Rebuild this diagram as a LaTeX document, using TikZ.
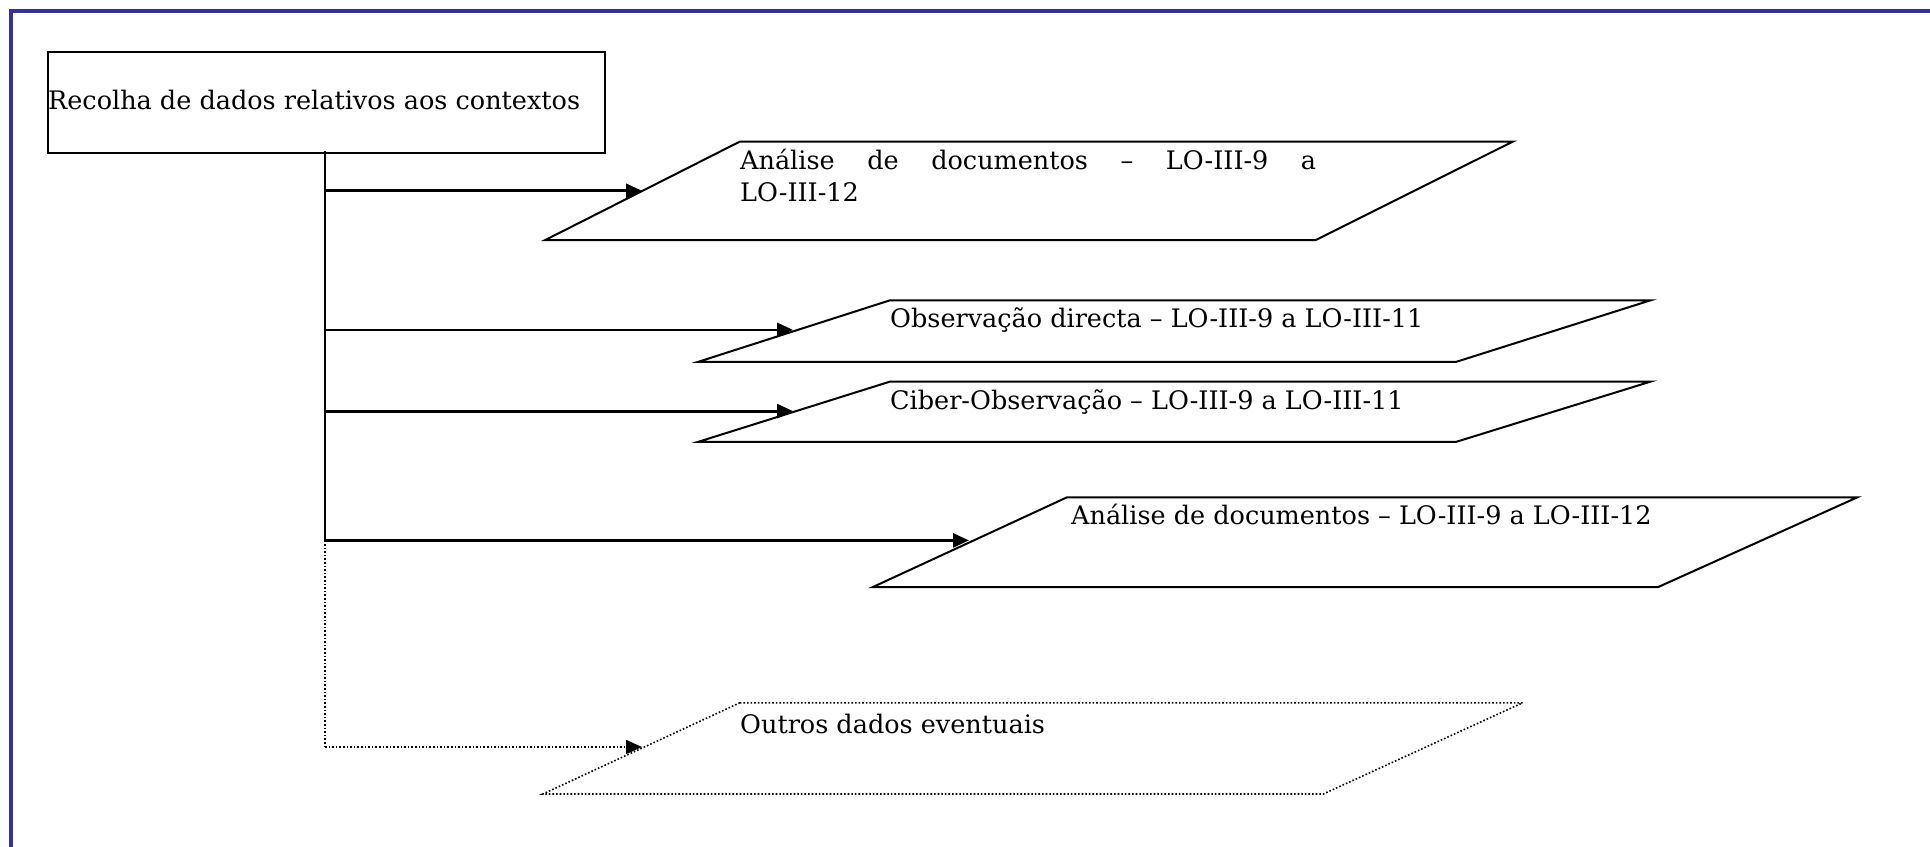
\documentclass[tikz,border=0pt]{standalone}
\usepackage{fontspec}
\setmainfont{DejaVu Serif}
\usetikzlibrary{arrows.meta}
\definecolor{frameblue}{RGB}{51,51,153}
\tikzset{
  conn/.style={line width=2.8pt,-{Triangle[length=16pt,width=14pt]}},
  trunk/.style={line width=2.8pt},
  para/.style={line width=2pt,line join=miter},
  dotpara/.style={line width=1.6pt,dotted},
  dotconn/.style={line width=1.6pt,dotted,-{Triangle[length=16pt,width=14pt]}},
  txt/.style={inner sep=0pt,anchor=base west,font=\fontsize{25.5pt}{30pt}\selectfont},
}
\begin{document}
\begin{tikzpicture}[x=1pt,y=-1pt]
\useasboundingbox (0,0) rectangle (1930,846);
\clip (0,0) rectangle (1930,846);
\draw[frameblue,line width=4pt] (10.5,11) rectangle (1960,880);

% source box
\node[draw,line width=2pt,minimum width=557pt,minimum height=101pt,anchor=north west,inner sep=0pt] (src) at (46.5,50.5) {};
\node[txt] (srct) at (48,109) {Recolha de dados relativos aos contextos};

% parallelograms
\draw[para] (739.8,141.6) coordinate (p1a) -- (1512.8,141.6) -- (1315.8,240) -- (545.3,240) -- cycle;
\node[txt] (t1a) at (740,169) {\makebox[576pt][s]{Análise\hfill de\hfill documentos\hfill –\hfill LO-III-9\hfill a}};
\node[txt] (t1b) at (740,201) {LO-III-12};

\draw[para] (890,300.3) -- (1650.6,300.3) -- (1456,361.9) -- (698,361.9) -- cycle;
\node[txt] (t2) at (890,327) {Observação directa – LO-III-9 a LO-III-11};

\draw[para] (890,381.6) -- (1650.6,381.6) -- (1456,441.9) -- (698,441.9) -- cycle;
\node[txt] (t3) at (890,409) {Ciber-Observação – LO-III-9 a LO-III-11};

\draw[para] (1067,497.3) -- (1857.4,497.3) -- (1658,587.1) -- (872.7,587.1) -- cycle;
\node[txt] (t4) at (1071,524) {Análise de documentos – LO-III-9 a LO-III-12};

\draw[dotpara] (739.8,702.8) -- (1522.6,702.8) -- (1323.2,794) -- (542.8,794) -- cycle;
\node[txt] (t5) at (740,733) {Outros dados eventuais};

% connectors
\coordinate (j0) at (325,151.4);
\coordinate (j1) at (325,190.8);
\coordinate (j2) at (325,329.9);
\coordinate (j3) at (325,411.1);
\coordinate (j4) at (325,540.4);
\coordinate (j5) at (325,747);
\coordinate (e1) at (642,190.8);
\coordinate (e2) at (793,329.9);
\coordinate (e3) at (793,411.1);
\coordinate (e4) at (969,540.4);
\coordinate (e5) at (642,747);

\draw[trunk] (j0) -- (j4);
\draw[line width=1.6pt,dotted] (j4) -- (j5);
\draw[conn] (j1) -- (e1);
\draw[conn] (j2) -- (e2);
\draw[conn] (j3) -- (e3);
\draw[conn] (j4) -- (e4);
\draw[dotconn] (j5) -- (e5);
\end{tikzpicture}
\end{document}
